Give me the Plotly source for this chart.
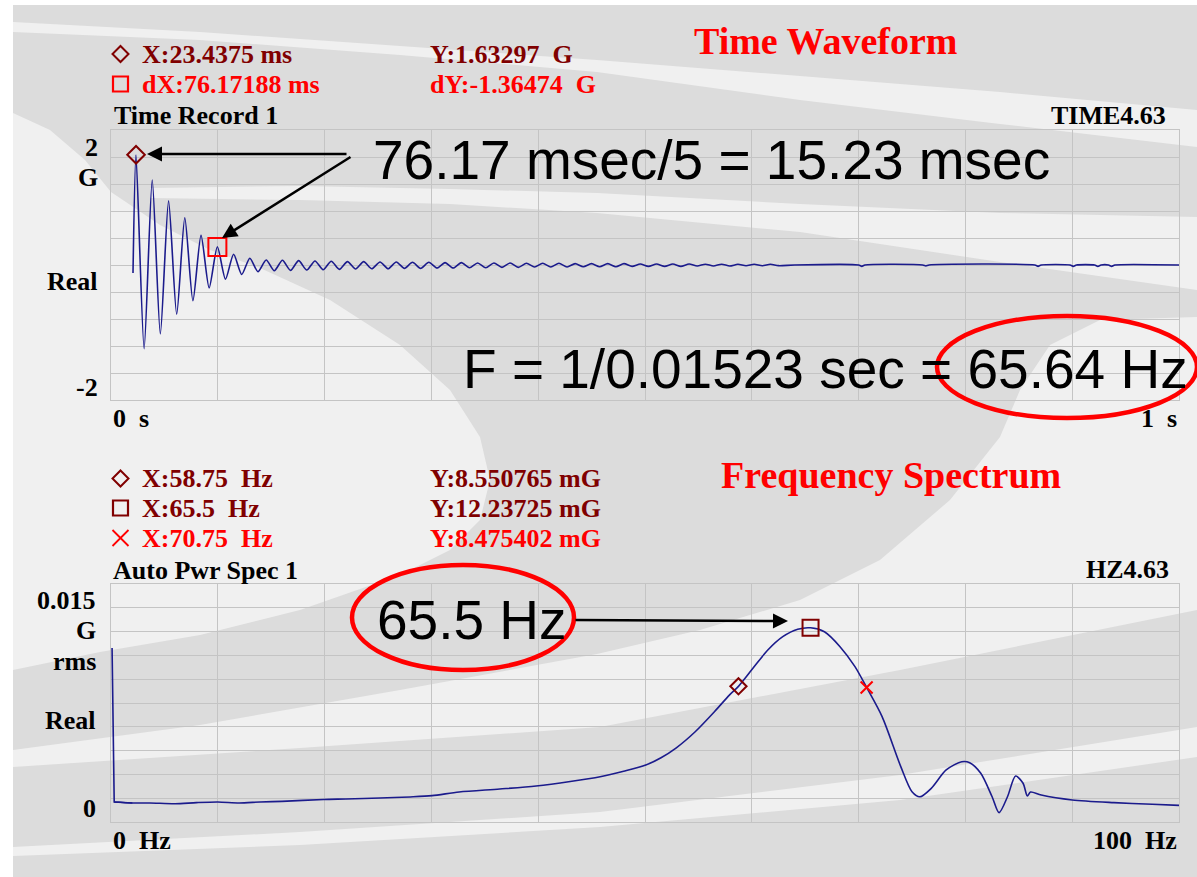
import plotly.graph_objects as go

# ---------------- data ----------------
# Time record (s) and acceleration (G): extrema
time_s = [
    0.0206, 0.0234, 0.0310, 0.0386, 0.0462, 0.0539, 0.0615, 0.0691, 0.0767, 0.0843,
    0.0919, 0.0996, 0.1072, 0.1148, 0.1224, 0.1300, 0.1376, 0.1453, 0.1529, 0.1605,
    0.1681, 0.1757, 0.1833, 0.1910, 0.1986, 0.2062, 0.2138, 0.2214, 0.2290, 0.2366,
    0.2442, 0.2519, 0.2595, 0.2671, 0.2747, 0.2823, 0.2899, 0.2976, 0.3052, 0.3128,
    0.3204, 0.3280, 0.3356, 0.3433, 0.3509, 0.3585, 0.3661, 0.3737, 0.3813, 0.3890,
    0.3966, 0.4042, 0.4118, 0.4194, 0.4270, 0.4346, 0.4422, 0.4499, 0.4575, 0.4651,
    0.4727, 0.4803, 0.4879, 0.4956, 0.5032, 0.5108, 0.5184, 0.5260, 0.5336, 0.5413,
    0.5489, 0.5565, 0.5641, 0.5717, 0.5793, 0.5870, 0.5946, 0.6022, 0.6098, 0.6174,
    0.6250, 0.640, 0.700, 0.703, 0.706, 0.760, 0.763, 0.766, 0.865, 0.868,
    0.871, 0.898, 0.901, 0.904, 0.921, 0.924, 0.927, 0.934, 0.937, 0.940,
    1.000,
]
accel_g = [
    -0.12, 1.63, -1.24, 1.26, -1.02, 0.95, -0.73, 0.70, -0.53, 0.44,
    -0.34, 0.27, -0.21, 0.16, -0.14, 0.10, -0.10, 0.075, -0.085, 0.07,
    -0.08, 0.065, -0.075, 0.06, -0.07, 0.055, -0.065, 0.05, -0.06, 0.05,
    -0.055, 0.045, -0.055, 0.045, -0.05, 0.04, -0.05, 0.04, -0.045, 0.035,
    -0.045, 0.035, -0.04, 0.03, -0.04, 0.03, -0.035, 0.03, -0.035, 0.025,
    -0.03, 0.025, -0.03, 0.025, -0.03, 0.02, -0.025, 0.02, -0.025, 0.02,
    -0.025, 0.02, -0.02, 0.015, -0.02, 0.015, -0.02, 0.015, -0.02, 0.015,
    -0.015, 0.012, -0.015, 0.012, -0.015, 0.01, -0.012, 0.01, -0.012, 0.01,
    -0.01, 0.0, 0.0, -0.02, 0.0, 0.0, -0.015, 0.0, 0.0, -0.02,
    0.0, 0.0, -0.02, 0.0, 0.0, -0.02, 0.0, 0.0, -0.02, 0.0,
    0.0,
]
time_marker_s = [0.0234375, 0.0996094]
time_marker_g = [1.63297, 0.26823]

# Auto power spectrum (Hz, mG rms)
freq_hz = [
    0.1, 0.3, 2.0, 3.65, 6.0, 8.0, 10.0, 12.0, 13.95, 16.0,
    19.9, 22.0, 25.2, 28.0, 30.06, 32.6, 36.4, 39.8, 43.0, 45.8,
    48.0, 50.07, 51.5, 52.9, 54.7, 56.5, 57.9, 58.75, 60.05, 61.5, 62.9,
    64.3, 65.5, 66.8, 68.26, 69.66, 70.75, 72.2, 73.95, 75.0, 75.74,
    76.8, 78.2, 79.66, 80.4, 81.44, 82.5, 83.15, 83.94, 84.7, 85.4,
    85.8, 86.1, 87.1, 90.0, 93.9, 97.5, 100.0,
]
spec_mg = [
    10.97, 1.26, 1.20, 1.20, 1.15, 1.22, 1.26, 1.20, 1.26, 1.30,
    1.42, 1.45, 1.51, 1.58, 1.66, 1.89, 2.08, 2.27, 2.55, 2.85,
    3.2, 3.59, 4.05, 4.66, 5.69, 6.95, 8.0, 8.55, 9.64, 10.84, 11.68,
    12.15, 12.24, 11.99, 11.05, 9.79, 8.48, 6.64, 3.49, 1.91, 1.59,
    2.12, 3.28, 3.80, 3.74, 3.07, 1.59, 0.59, 1.59, 2.90, 2.44,
    1.64, 1.89, 1.70, 1.39, 1.22, 1.12, 1.05,
]
spec_marker_hz = [58.75, 65.5, 70.75]
spec_marker_mg = [8.550765, 12.23725, 8.475402]

# ---------------- styling ----------------
W, H = 1197, 877
TRACE = "#1b1b8c"
DARKRED = "#800000"
RED = "#ff0000"
GRID = "#c4c4c4"
DARKBG = "#dcdcdc"
LIGHTBG = "#f0f0f0"
SERIF = "Liberation Serif, Times New Roman, serif"
SANS = "Liberation Sans, Arial, sans-serif"


def X(px):
    return px / W


def Y(py):
    return 1 - py / H


def poly(points):
    return "M " + " L ".join(f"{X(a):.5f},{Y(b):.5f}" for a, b in points) + " Z"


fig = go.Figure()

fig.add_trace(go.Scatter(x=time_s, y=accel_g, mode="lines",
                         line=dict(color=TRACE, width=1.6, shape="spline", smoothing=0.7),
                         xaxis="x", yaxis="y", hoverinfo="skip", showlegend=False))
fig.add_trace(go.Scatter(x=time_marker_s[:1], y=time_marker_g[:1], mode="markers",
                         marker=dict(symbol="diamond-open", size=13.5, color=DARKRED,
                                     line=dict(width=2, color=DARKRED)),
                         xaxis="x", yaxis="y", hoverinfo="skip", showlegend=False, cliponaxis=False))
fig.add_trace(go.Scatter(x=time_marker_s[1:], y=time_marker_g[1:], mode="markers",
                         marker=dict(symbol="square-open", size=18, color=RED,
                                     line=dict(width=2, color=RED)),
                         xaxis="x", yaxis="y", hoverinfo="skip", showlegend=False, cliponaxis=False))

# DC spike drawn straight, the rest smoothed
fig.add_trace(go.Scatter(x=freq_hz[:3], y=spec_mg[:3], mode="lines",
                         line=dict(color=TRACE, width=1.6),
                         xaxis="x2", yaxis="y2", hoverinfo="skip", showlegend=False))
fig.add_trace(go.Scatter(x=freq_hz[1:], y=spec_mg[1:], mode="lines",
                         line=dict(color=TRACE, width=1.6, shape="spline", smoothing=0.8),
                         xaxis="x2", yaxis="y2", hoverinfo="skip", showlegend=False))
sym = ["diamond-open", "square-open", "x-thin-open"]
sizes = [12.5, 16, 12]
cols = [DARKRED, DARKRED, RED]
for i in range(3):
    fig.add_trace(go.Scatter(x=[spec_marker_hz[i]], y=[spec_marker_mg[i]], mode="markers",
                             marker=dict(symbol=sym[i], size=sizes[i], color=cols[i],
                                         line=dict(width=2, color=cols[i])),
                             xaxis="x2", yaxis="y2", hoverinfo="skip", showlegend=False,
                             cliponaxis=False))

ax_common = dict(showgrid=True, gridcolor=GRID, gridwidth=1, zeroline=False,
                 showticklabels=False, ticks="", showline=True, linecolor=GRID,
                 linewidth=1, mirror=True, fixedrange=True)

fig.update_layout(
    width=W, height=H, margin=dict(l=0, r=0, t=0, b=0),
    paper_bgcolor="white", plot_bgcolor="rgba(0,0,0,0)",
    showlegend=False,
    xaxis=dict(domain=[X(111), X(1179)], range=[0, 1], tick0=0, dtick=0.1, anchor="y", **ax_common),
    yaxis=dict(domain=[Y(400), Y(130)], range=[-2, 2], tick0=-2, dtick=0.4, anchor="x", **ax_common),
    xaxis2=dict(domain=[X(111), X(1179)], range=[0, 100], tick0=0, dtick=10, anchor="y2", **ax_common),
    yaxis2=dict(domain=[Y(822), Y(584)], range=[0, 15], tick0=0, dtick=1.5, anchor="x2", **ax_common),
)

# ---------------- background (slide template swooshes) ----------------
shapes = []
shapes.append(dict(type="rect", xref="paper", yref="paper", x0=X(13), x1=X(1197), y0=Y(877), y1=Y(5),
                   fillcolor=DARKBG, line=dict(width=0), layer="below"))
light_polys = [
    # top thin streak
    [(13, 22), (200, 32), (400, 46), (597, 60), (800, 76), (1000, 92), (1197, 110),
     (1197, 147), (1000, 124), (800, 100), (597, 72), (400, 55), (200, 40), (13, 32)],
    # second streak, widening to the right
    [(150, 188), (300, 186), (450, 189), (597, 193), (800, 204), (1000, 213), (1197, 217),
     (1197, 290), (1000, 262), (800, 232), (597, 213), (450, 204), (300, 200), (150, 198)],
    # big light bowl on the left
    [(13, 113), (50, 130), (85, 160), (111, 192), (160, 225), (210, 250), (260, 268), (330, 300),
     (400, 345), (450, 390), (480, 437), (490, 480), (480, 520), (450, 550), (400, 575),
     (300, 610), (200, 635), (100, 652), (13, 670)],
    # right / lower light swoosh
    [(1197, 317), (1100, 320), (1050, 345), (1020, 390), (1000, 437), (950, 500), (880, 560),
     (800, 600), (700, 630), (597, 654), (400, 690), (200, 725), (13, 750),
     (13, 767), (300, 748), (600, 727), (900, 670), (1197, 610)],
    # bottom streak
    [(13, 847), (300, 832), (600, 812), (900, 775), (1197, 727),
     (1197, 757), (900, 800), (600, 827), (300, 845), (13, 856)],
]
for p in light_polys:
    shapes.append(dict(type="path", xref="paper", yref="paper", path=poly(p),
                       fillcolor=LIGHTBG, line=dict(width=0), layer="below"))


def diamond(cx, cy, r, color):
    return dict(type="path", xref="paper", yref="paper",
                path=poly([(cx, cy - r), (cx + r, cy), (cx, cy + r), (cx - r, cy)]),
                line=dict(color=color, width=2), fillcolor="rgba(0,0,0,0)")


def square(cx, cy, r, color):
    return dict(type="rect", xref="paper", yref="paper", x0=X(cx - r), x1=X(cx + r),
                y0=Y(cy + r), y1=Y(cy - r), line=dict(color=color, width=2.2))


def cross(cx, cy, r, color):
    return dict(type="path", xref="paper", yref="paper",
                path=f"M {X(cx-r):.5f},{Y(cy-r):.5f} L {X(cx+r):.5f},{Y(cy+r):.5f} "
                     f"M {X(cx-r):.5f},{Y(cy+r):.5f} L {X(cx+r):.5f},{Y(cy-r):.5f}",
                line=dict(color=color, width=1.8))


shapes += [diamond(120.5, 54, 8, DARKRED), square(120.5, 84, 7.5, RED),
           diamond(120.5, 478.5, 8, DARKRED), square(120.5, 508, 7.5, DARKRED),
           cross(120.5, 538, 8, RED)]

# red ellipses
shapes.append(dict(type="circle", xref="paper", yref="paper", x0=X(937), x1=X(1197), y0=Y(418), y1=Y(316),
                   line=dict(color=RED, width=4.5), layer="above"))
shapes.append(dict(type="circle", xref="paper", yref="paper", x0=X(352), x1=X(574), y0=Y(670), y1=Y(565),
                   line=dict(color=RED, width=4.5), layer="above"))
fig.update_layout(shapes=shapes)

# ---------------- texts ----------------
ann = []


def txt(s, px, py, size=26, color="black", anchor="left", family=SERIF, bold=True):
    ann.append(dict(text=s, x=X(px), y=Y(py), xref="paper", yref="paper", xanchor=anchor,
                    yanchor="middle", showarrow=False,
                    font=dict(family=family, size=size, color=color,
                              weight="bold" if bold else "normal")))


NB = "\u00a0"
txt("Time Waveform", 692, 41, size=38, color=RED)
txt("X:23.4375 ms", 140, 55, color=DARKRED)
txt(f"Y:1.63297{NB}{NB}G", 428, 55, color=DARKRED)
txt("dX:76.17188 ms", 140, 85, color=RED)
txt(f"dY:-1.36474{NB}{NB}G", 428, 85, color=RED)
txt("Time Record 1", 112, 115)
txt("TIME4.63", 1168, 116, anchor="right")
txt("2", 100, 147, anchor="right")
txt("G", 100, 178, anchor="right")
txt("Real", 100, 282, anchor="right")
txt("-2", 100, 387, anchor="right")
txt(f"0{NB}{NB}s", 111, 418)
txt(f"1{NB}{NB}s", 1179, 418, anchor="right")

txt("Frequency Spectrum", 719, 475, size=38, color=RED)
txt(f"X:58.75{NB}{NB}Hz", 140, 479, color=DARKRED)
txt("Y:8.550765 mG", 428, 479, color=DARKRED)
txt(f"X:65.5{NB}{NB}Hz", 140, 508, color=DARKRED)
txt("Y:12.23725 mG", 428, 508, color=DARKRED)
txt(f"X:70.75{NB}{NB}Hz", 140, 538, color=RED)
txt("Y:8.475402 mG", 428, 538, color=RED)
txt("Auto Pwr Spec 1", 111, 570)
txt("HZ4.63", 1171, 569, anchor="right")
txt("0.015", 98, 600, anchor="right")
txt("G", 98, 630, anchor="right")
txt("rms", 98, 661, anchor="right")
txt("Real", 98, 720, anchor="right")
txt("0", 98, 808, anchor="right")
txt(f"0{NB}{NB}Hz", 111, 840)
txt(f"100{NB}{NB}Hz", 1179, 840, anchor="right")

# big annotation texts
txt("76.17 msec/5 = 15.23 msec", 371, 160, size=55, family=SANS, bold=False)
txt("F = 1/0.01523 sec = 65.64 Hz", 461, 369, size=55, family=SANS, bold=False)
txt("65.5 Hz", 375, 620, size=55, family=SANS, bold=False)


def arrow(tipx, tipy, tailx, taily):
    ann.append(dict(text="", x=X(tipx), y=Y(tipy), xref="paper", yref="paper",
                    ax=tailx - tipx, ay=taily - tipy, axref="pixel", ayref="pixel",
                    showarrow=True, arrowhead=2, arrowsize=1.2, arrowwidth=2.5,
                    arrowcolor="black", standoff=0, startstandoff=0))


arrow(147, 154, 348, 154)
arrow(222, 238, 352, 156)
arrow(788, 621, 574, 620)

fig.update_layout(annotations=ann)

fig.write_html("out.html", config=dict(displayModeBar=False),
               post_script="document.body.style.margin='0';document.body.style.overflow='hidden';")
